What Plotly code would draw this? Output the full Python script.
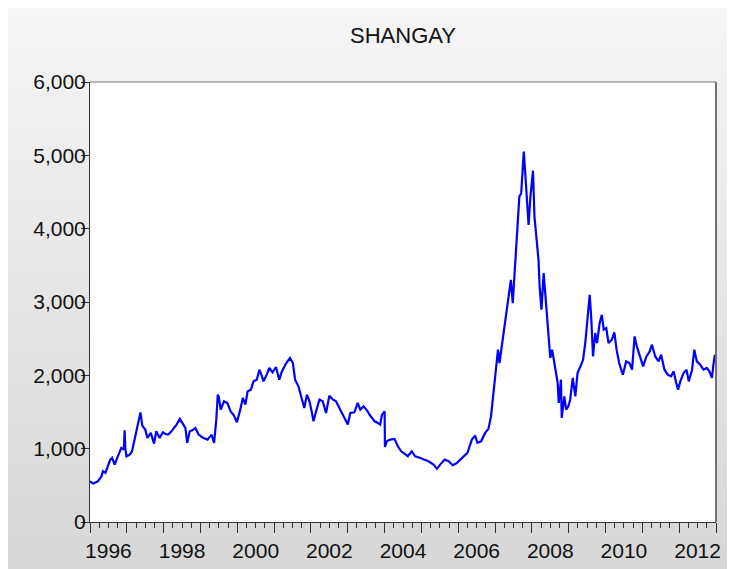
import plotly.graph_objects as go

# ---- data (decimal year, index level) ----
years = [
    1996.00, 1996.04, 1996.08, 1996.15, 1996.22, 1996.31, 1996.35, 1996.42, 1996.49, 1996.55,
    1996.60, 1996.67, 1996.72, 1996.78, 1996.85, 1996.92, 1996.94, 1996.96, 1996.99, 1997.08,
    1997.14, 1997.23, 1997.30, 1997.37, 1997.42, 1997.50, 1997.56, 1997.65, 1997.74, 1997.80,
    1997.89, 1997.98, 1998.05, 1998.12, 1998.20, 1998.26, 1998.35, 1998.44, 1998.53, 1998.59,
    1998.64, 1998.71, 1998.78, 1998.86, 1998.95, 1999.07, 1999.19, 1999.30, 1999.37, 1999.43,
    1999.47, 1999.50, 1999.55, 1999.64, 1999.73, 1999.82, 1999.91, 1999.99, 2000.08, 2000.15,
    2000.22, 2000.28, 2000.37, 2000.44, 2000.53, 2000.60, 2000.67, 2000.71, 2000.80, 2000.87,
    2000.96, 2001.05, 2001.14, 2001.21, 2001.33, 2001.43, 2001.51, 2001.57, 2001.66, 2001.75,
    2001.82, 2001.89, 2001.96, 2002.01, 2002.07, 2002.14, 2002.23, 2002.32, 2002.41, 2002.50,
    2002.60, 2002.68, 2002.77, 2002.84, 2002.91, 2003.00, 2003.07, 2003.18, 2003.27, 2003.34,
    2003.43, 2003.52, 2003.61, 2003.73, 2003.82, 2003.88, 2003.93, 2004.00, 2004.01, 2004.06,
    2004.15, 2004.27, 2004.36, 2004.45, 2004.54, 2004.63, 2004.74, 2004.83, 2004.97, 2005.08,
    2005.19, 2005.33, 2005.42, 2005.51, 2005.63, 2005.74, 2005.85, 2005.95, 2006.05, 2006.15,
    2006.25, 2006.37, 2006.46, 2006.52, 2006.62, 2006.73, 2006.82, 2006.89, 2006.93, 2006.98,
    2007.03, 2007.08, 2007.12, 2007.17, 2007.23, 2007.30, 2007.37, 2007.43, 2007.48, 2007.52,
    2007.56, 2007.61, 2007.66, 2007.71, 2007.76, 2007.78, 2007.82, 2007.88, 2007.91, 2007.96,
    2008.00, 2008.03, 2008.07, 2008.10, 2008.14, 2008.18, 2008.21, 2008.26, 2008.32, 2008.37,
    2008.41, 2008.45, 2008.50, 2008.55, 2008.61, 2008.66, 2008.70, 2008.73, 2008.79, 2008.81,
    2008.88, 2008.93, 2008.99, 2009.04, 2009.11, 2009.18, 2009.24, 2009.32, 2009.39, 2009.45,
    2009.50, 2009.54, 2009.57, 2009.61, 2009.64, 2009.66, 2009.72, 2009.77, 2009.84, 2009.90,
    2009.95, 2010.02, 2010.08, 2010.17, 2010.24, 2010.30, 2010.37, 2010.47, 2010.56, 2010.65,
    2010.72, 2010.79, 2010.85, 2010.93, 2011.02, 2011.11, 2011.20, 2011.26, 2011.35, 2011.44,
    2011.51, 2011.60, 2011.69, 2011.78, 2011.85, 2011.92, 2011.97, 2012.03, 2012.12, 2012.20,
    2012.26, 2012.35, 2012.41, 2012.48, 2012.57, 2012.66, 2012.75, 2012.82, 2012.89, 2012.93,
    2012.97,
]
shangay = [
    556, 540, 524, 540, 556, 624, 692, 670, 783, 850,
    874, 783, 850, 919, 1010, 987, 1250, 1000, 896, 919,
    964, 1169, 1328, 1495, 1314, 1260, 1147, 1215, 1069, 1237,
    1147, 1223, 1200, 1192, 1230, 1269, 1328, 1405, 1328, 1283,
    1079, 1237, 1250, 1283, 1192, 1147, 1124, 1192, 1079, 1396,
    1737, 1700, 1532, 1645, 1623, 1509, 1450, 1359, 1532, 1692,
    1600, 1781, 1805, 1918, 1941, 2077, 1986, 1918, 2009, 2100,
    2040, 2114, 1941, 2054, 2168, 2236, 2168, 1941, 1850, 1692,
    1555, 1737, 1645, 1532, 1373, 1509, 1668, 1645, 1487, 1723,
    1668, 1645, 1555, 1487, 1405, 1328, 1487, 1495, 1623, 1532,
    1577, 1523, 1450, 1373, 1351, 1328, 1464, 1509, 1024, 1100,
    1124, 1133, 1032, 964, 933, 896, 964, 896, 874, 851,
    828, 783, 725, 783, 851, 828, 775, 800, 851, 900,
    942, 1124, 1178, 1079, 1100, 1215, 1270, 1441, 1650, 1896,
    2168, 2350, 2168, 2350, 2622, 2894, 3075, 3303, 2985, 3303,
    3530, 3984, 4437, 4483, 4801, 5050, 4756, 4347, 4052, 4437,
    4665, 4792, 4165, 3984, 3756, 3575, 3212, 2894, 3394, 3075,
    2690, 2441, 2236, 2350, 2168, 1986, 1896, 1623, 1941, 1419,
    1713, 1532, 1577, 1668, 1964, 1713, 2032, 2122, 2213, 2441,
    2758, 2894, 3099, 2803, 2441, 2258, 2577, 2441, 2713, 2826,
    2622, 2645, 2441, 2486, 2586, 2350, 2168, 2009, 2190, 2168,
    2077, 2531, 2395, 2258, 2122, 2258, 2326, 2418, 2258, 2190,
    2281, 2077, 2009, 1986, 2054, 1896, 1805, 1918, 2032, 2077,
    1918, 2077, 2350, 2190, 2145, 2077, 2100, 2054, 1964, 2145,
    2281,
]
year_labels = ["1996", "1998", "2000", "2002", "2004", "2006", "2008", "2010", "2012"]
y_ticks = [0, 1000, 2000, 3000, 4000, 5000, 6000]

# ---- layout geometry (figure pixels; the page adds an 8px body margin) ----
W, H = 735, 569
L, R, T, B = 82, 27, 74, 55
PW, PH = W - L - R, H - T - B


def px_y(py):
    return (H - B - py) / PH


FONT = "Liberation Sans Narrow, Arial Narrow, Liberation Sans, Arial, sans-serif"

fig = go.Figure()
fig.add_trace(go.Scatter(
    x=years, y=shangay, mode="lines",
    line=dict(color="#0000ff", width=2.2),
    showlegend=False, hoverinfo="skip",
))
# invisible trace to activate the label axis
fig.add_trace(go.Scatter(x=[years[0]], y=[shangay[0]], xaxis="x2", mode="markers",
                         marker=dict(opacity=0), showlegend=False, hoverinfo="skip"))

# gray gradient background panel (bands) + white plot area
shapes = []
n = 60
for i in range(n):
    y0p = (H - 8) * i / n
    y1p = (H - 8) * (i + 1) / n
    c = round(245 - (245 - 215) * (i + 0.5) / n)
    shapes.append(dict(type="rect", xref="paper", yref="paper", layer="below",
                       x0=-L / PW - 0.01, x1=1 + R / PW + 0.01,
                       y0=px_y(y1p) - 0.002, y1=px_y(y0p) + 0.002,
                       fillcolor=f"rgb({c},{c},{c})", line=dict(width=0)))
shapes.append(dict(type="rect", xref="paper", yref="paper", layer="below",
                   x0=0, x1=1, y0=0, y1=1, fillcolor="#ffffff", line=dict(width=0)))
# top and right frame lines
shapes.append(dict(type="line", xref="paper", yref="paper", x0=0, x1=1, y0=1, y1=1,
                   line=dict(color="#777777", width=1.2)))
shapes.append(dict(type="line", xref="paper", yref="paper", x0=1, x1=1, y0=0, y1=1,
                   line=dict(color="#707070", width=2)))

year_ticks = list(range(1996, 2014))
quarter_ticks = [y + q / 4 for y in range(1996, 2013) for q in (1, 2, 3)]

fig.update_layout(
    width=W, height=H,
    margin=dict(l=L, r=R, t=T, b=B, autoexpand=False),
    paper_bgcolor="#e6e6e6",
    plot_bgcolor="#ffffff",
    shapes=shapes,
    font=dict(family=FONT, size=21, color="#111111"),
    title=dict(text="SHANGAY", x=0.5, xref="paper", xanchor="center",
               y=1 - 27 / H, yref="container", yanchor="middle",
               font=dict(family=FONT, size=22, color="#111111")),
    xaxis=dict(range=[1996, 2013], tickmode="array", tickvals=year_ticks,
               showticklabels=False, ticks="outside", ticklen=10, tickwidth=1,
               tickcolor="#333333", showline=True, linecolor="#333333", linewidth=1,
               showgrid=False, zeroline=False, automargin=False,
               minor=dict(tickmode="array", tickvals=quarter_ticks, ticks="outside",
                          ticklen=5, tickcolor="#333333", showgrid=False)),
    xaxis2=dict(range=[1996, 2013], overlaying="x", anchor="y", side="bottom",
                tickmode="array", tickvals=[int(s) + 0.5 for s in year_labels],
                ticktext=year_labels, ticks="outside", ticklen=10,
                tickcolor="rgba(0,0,0,0)", showline=False, showgrid=False,
                zeroline=False, automargin=False,
                tickfont=dict(family=FONT, size=21, color="#111111")),
    yaxis=dict(range=[0, 6000], tickmode="array", tickvals=y_ticks, tickformat=",d",
               ticks="outside", ticklen=8, tickcolor="#333333", showline=True,
               linecolor="#333333", linewidth=1, showgrid=False, zeroline=False,
               automargin=False, ticklabelstandoff=-9,
               tickfont=dict(family=FONT, size=21, color="#111111")),
)

fig.write_html("out.html")
